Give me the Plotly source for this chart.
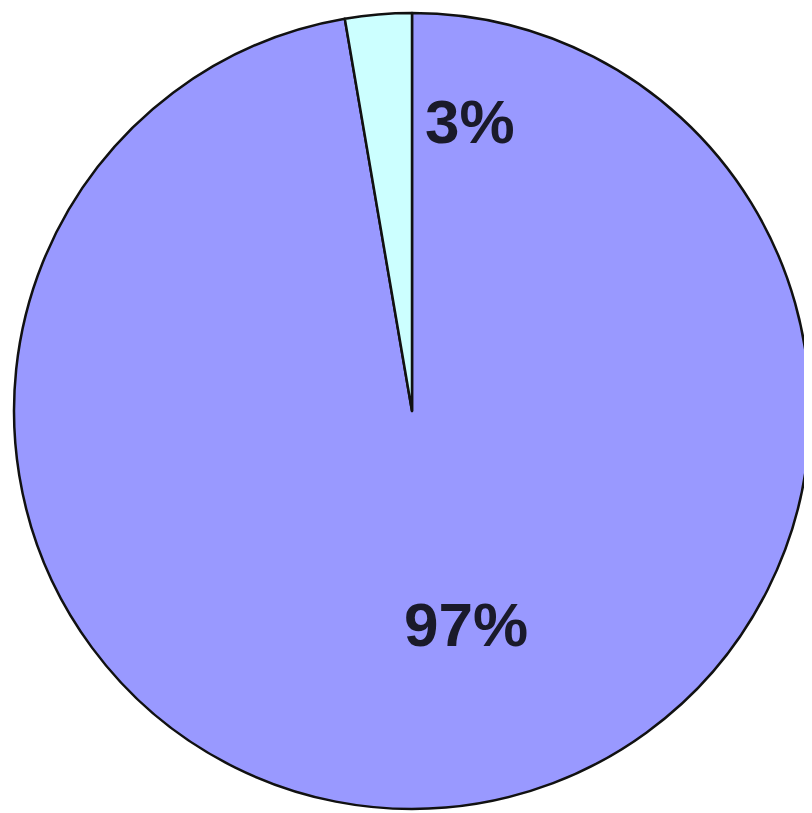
import plotly.graph_objects as go

# slice values (small slice is ~2.7% of the circle)
labels = ["B", "A"]
values = [97.3, 2.7]
colors = ["#9999FF", "#CCFFFF"]

W, H = 812, 813
off = 8  # page body margin shifts the plot by 8px
cx, cy, r = 412 - off, 411 - off, 398

total = sum(values)
pct_text = [f"{round(v / total * 100)}%" for v in values]

fig = go.Figure(go.Pie(
    labels=labels,
    values=values,
    sort=False,
    direction="clockwise",
    rotation=0,
    marker=dict(colors=colors, line=dict(color="#111111", width=2.5)),
    textinfo="none",
    hoverinfo="label+percent",
    showlegend=False,
    domain=dict(x=[(cx - r) / W, (cx + r) / W],
                y=[(H - cy - r) / H, (H - cy + r) / H]),
))

# label positions as in the original (3% sits just right of the slice edge)
label_pos = [(466, 624), (470, 122)]
for txt, (px_, py_) in zip(pct_text, label_pos):
    fig.add_annotation(x=(px_ - off) / W, y=1 - (py_ - off) / H,
                       xref="paper", yref="paper",
                       xanchor="center", yanchor="middle",
                       text=f"<b>{txt}</b>", showarrow=False,
                       font=dict(family="Liberation Sans, Arial",
                                 size=62, color="#1a1a2a"))

fig.update_layout(
    width=W, height=H,
    margin=dict(l=0, r=0, t=0, b=0),
    paper_bgcolor="white",
    plot_bgcolor="white",
)

fig.write_html("out.html")
